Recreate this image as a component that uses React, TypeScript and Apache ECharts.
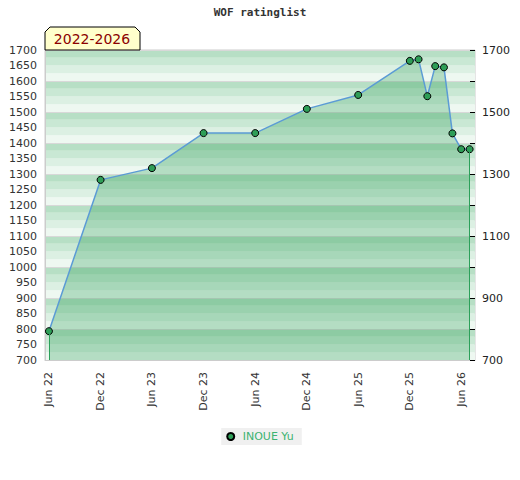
import React, { useEffect, useRef } from "react";
import * as echarts from "echarts";

const dates = [
  "2022-06-01", "2022-12-01", "2023-06-01", "2023-12-01", "2024-06-01",
  "2024-12-01", "2025-06-01", "2025-12-01", "2026-01-01", "2026-02-01",
  "2026-03-01", "2026-04-01", "2026-05-01", "2026-06-01", "2026-07-01",
];
const ratings = [793, 1281, 1319, 1432, 1432, 1510, 1555, 1665, 1670, 1551, 1648, 1644, 1431, 1380, 1380];
const xTickDates = [
  "2022-06-01", "2022-12-01", "2023-06-01", "2023-12-01", "2024-06-01",
  "2024-12-01", "2025-06-01", "2025-12-01", "2026-06-01",
];
const monthNames = ["Jan", "Feb", "Mar", "Apr", "May", "Jun", "Jul", "Aug", "Sep", "Oct", "Nov", "Dec"];
const seriesName = "INOUE Yu";
const titleText = "WOF ratinglist";
const badgeText = "2022-2026";
const xMin = "2022-05-18";
const xMax = "2026-07-20";

const ts = (s: string) => {
  const [y, m, d] = s.split("-").map(Number);
  return Date.UTC(y, m - 1, d);
};

export default function App() {
  const ref = useRef<HTMLDivElement>(null);
  useEffect(() => {
    if (!ref.current) return;
    const chart = echarts.init(ref.current, null, { renderer: "svg" });
    const data = dates.map((d, i) => [ts(d), ratings[i]]);
    const first = data[0];
    const last = data[data.length - 1];
    const stripeColors = ["#eef8f1", "#dcf0e3", "#c9e8d4", "#b7dfc5"];
    chart.setOption({
      animation: false,
      textStyle: { fontFamily: "DejaVu Sans" },
      title: {
        text: titleText,
        left: "center",
        top: 7,
        padding: 0,
        textStyle: { fontFamily: "DejaVu Sans Mono", fontWeight: "bold", fontSize: 11, color: "#333" },
      },
      grid: { left: 45, right: 45, top: 50, bottom: 120, show: true, borderColor: "#cccccc", borderWidth: 1, backgroundColor: "transparent" },
      legend: {
        left: "center",
        top: 428,
        backgroundColor: "#f0f0f0",
        padding: [3, 8, 3, 5],
        itemWidth: 14,
        itemHeight: 7,
        icon: "circle",
        textStyle: { color: "#3cb371", fontSize: 11 },
        data: [seriesName],
      },
      xAxis: {
        type: "value",
        min: ts(xMin),
        max: ts(xMax),
        axisLine: { show: true, lineStyle: { color: "#cccccc" } },
        axisTick: { show: false },
        splitLine: { show: false },
        axisLabel: {
          rotate: 90,
          fontSize: 11,
          color: "#333",
          margin: 12,
          customValues: xTickDates.map(ts),
          formatter: (v: number) => {
            const d = new Date(v);
            return monthNames[d.getUTCMonth()] + " " + String(d.getUTCFullYear()).slice(2);
          },
        },
      },
      yAxis: [
        {
          type: "value",
          min: 700,
          max: 1700,
          interval: 25,
          position: "left",
          axisLine: { show: false },
          axisTick: { show: false },
          axisLabel: { show: false },
          splitLine: { show: false },
          splitArea: { show: true, areaStyle: { color: stripeColors } },
        },
        {
          type: "value",
          min: 700,
          max: 1700,
          interval: 50,
          position: "left",
          axisLine: { show: true, lineStyle: { color: "#cccccc" } },
          axisTick: { show: false },
          axisLabel: { fontSize: 11, color: "#333", margin: 8, formatter: (v: number) => String(v) },
          splitLine: { show: false },
        },
        {
          type: "value",
          min: 700,
          max: 1700,
          interval: 100,
          position: "right",
          axisLine: { show: false },
          axisTick: { show: true, inside: true, length: 5, lineStyle: { color: "#000" } },
          axisLabel: {
            fontSize: 11,
            color: "#222",
            margin: 7,
            formatter: (v: number) => (v % 200 === 100 ? String(v) : ""),
          },
          splitLine: { show: true, lineStyle: { color: "#d8d8d8", width: 1 } },
        },
      ],
      series: [
        {
          name: seriesName,
          type: "line",
          yAxisIndex: 1,
          data,
          symbol: "circle",
          symbolSize: 7,
          itemStyle: { color: "#2e9e57", borderColor: "#000", borderWidth: 1 },
          lineStyle: { color: "#5b9bd5", width: 1.5 },
          areaStyle: { color: "rgba(31,152,75,0.4)", origin: "start" },
          markLine: {
            silent: true,
            symbol: "none",
            label: { show: false },
            lineStyle: { color: "#2ca05a", width: 1, type: "solid" },
            data: [
              [{ coord: [first[0], 700] }, { coord: [first[0], first[1]] }],
              [{ coord: [last[0], 700] }, { coord: [last[0], last[1]] }],
            ],
          },
        },
      ],
      graphic: [
        {
          type: "polygon",
          z: 100,
          shape: { points: [[45, 50], [45, 32], [50, 27], [135, 27], [140, 32], [140, 50]] },
          style: { fill: "#ffffcc", stroke: "#000", lineWidth: 1 },
        },
        {
          type: "text",
          z: 101,
          x: 92,
          y: 39,
          style: {
            text: badgeText,
            fontFamily: "DejaVu Sans",
            fontSize: 14,
            fill: "#8b0000",
            align: "center",
            verticalAlign: "middle",
          },
        },
      ],
    });
    return () => chart.dispose();
  }, []);
  return <div ref={ref} style={{ position: "absolute", left: 0, top: 0, width: 520, height: 480 }} />;
}
